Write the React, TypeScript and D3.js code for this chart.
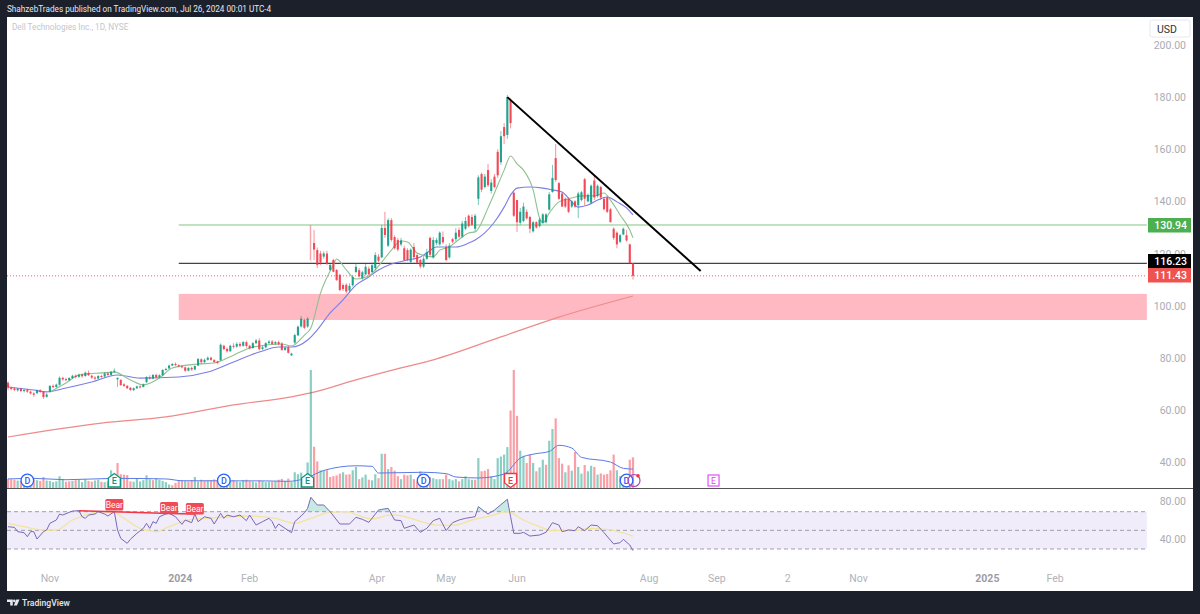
import React from 'react';
import * as d3 from 'd3';

// [open, close, high, low], one row per trading day
const candles: number[][] = [
  [70.4,68.5,71.0,67.6],[68.4,68.1,68.9,67.5],[68.2,67.6,68.7,67.2],[67.5,68.1,68.4,67.0],[68.1,67.2,68.5,66.8],
  [67.2,67.6,68.1,66.7],[67.6,67.0,68.2,66.5],[67.0,66.3,67.4,65.9],[66.3,65.8,66.8,65.0],[66.4,67.5,67.9,66.0],
  [67.5,66.9,68.0,66.4],[66.9,64.9,67.2,64.2],[65.0,65.9,66.4,64.7],[66.9,69.2,69.5,66.7],[69.2,68.7,69.8,68.4],
  [68.8,69.7,70.1,68.5],[69.6,72.3,72.8,69.3],[72.3,71.7,72.7,71.2],[71.8,71.4,72.3,71.0],[71.4,72.2,72.6,71.1],
  [72.2,73.1,73.5,71.9],[73.1,72.6,73.6,72.1],[72.7,73.5,73.9,72.3],[73.5,72.9,74.0,72.4],[73.0,74.3,74.7,72.7],
  [74.2,73.3,75.1,73.0],[73.1,72.4,73.5,71.9],[72.4,72.0,72.9,71.4],[72.0,73.0,73.4,71.7],[73.0,72.7,73.5,72.2],
  [72.8,74.0,74.4,72.5],[74.0,73.4,74.5,73.0],[73.4,74.6,75.0,73.1],[74.6,75.0,75.9,74.2],[71.7,72.3,72.4,68.8],
  [71.5,69.5,71.8,69.2],[69.8,69.2,70.2,68.8],[69.2,68.3,69.6,68.0],[68.5,67.6,68.8,67.3],[67.6,68.3,68.6,67.2],
  [68.3,69.0,69.3,68.0],[69.0,68.7,69.5,68.3],[68.8,69.8,70.1,68.6],[70.6,72.6,72.9,70.4],[72.4,72.0,73.3,71.6],
  [72.0,73.4,73.8,71.7],[73.4,72.5,73.9,72.1],[72.5,73.3,73.7,72.2],[73.3,75.3,75.6,73.1],[75.3,75.7,76.2,75.0],
  [75.9,77.0,77.4,75.7],[77.0,77.6,78.0,76.8],[77.6,77.2,78.2,76.8],[77.1,76.7,77.5,76.3],[76.7,76.3,77.1,75.9],
  [76.3,75.0,76.6,74.6],[75.0,76.1,76.4,74.8],[76.1,75.5,76.6,75.0],[75.5,76.8,77.1,75.2],[77.0,79.5,80.0,76.8],
  [79.4,78.3,79.8,77.6],[78.3,79.2,79.7,78.0],[79.2,80.0,80.5,78.9],[80.0,79.2,80.4,78.8],[79.1,78.4,79.5,78.0],
  [78.5,78.0,78.9,77.5],[79.1,85.0,85.5,78.8],[84.6,83.3,85.0,82.9],[83.4,82.5,83.9,82.0],[82.5,84.6,85.0,82.3],
  [84.6,84.2,85.6,83.5],[84.3,85.3,86.0,83.8],[85.3,84.6,86.0,84.0],[84.6,86.0,86.4,84.2],[86.0,84.5,86.6,83.8],
  [84.6,83.6,85.0,83.2],[83.7,85.6,86.0,83.5],[85.6,86.6,87.2,85.3],[86.6,83.3,87.5,82.8],[83.4,84.0,84.5,83.0],
  [84.0,85.6,86.0,83.6],[85.6,86.2,86.8,85.3],[86.2,85.3,86.8,85.0],[85.4,86.0,86.4,85.0],[86.0,85.2,86.6,84.8],
  [85.4,83.0,86.0,82.6],[83.0,83.8,84.4,82.7],[84.0,81.9,84.5,81.6],[80.9,81.6,81.9,80.7],[85.8,88.7,89.2,85.3],
  [88.6,91.9,92.4,88.3],[92.0,95.0,96.0,91.6],[94.5,91.5,95.0,91.0],[92.0,95.0,95.6,91.5],[130.9,117.5,130.9,116.9],
  [124.0,121.5,129.0,117.5],[121.3,115.6,122.3,114.5],[120.0,116.5,121.0,115.6],[118.8,120.0,120.8,118.0],[120.0,116.0,121.0,115.6],
  [113.7,115.6,116.0,113.4],[117.5,113.0,118.0,112.8],[113.7,109.8,114.0,109.5],[111.8,106.0,112.2,105.5],[107.9,106.4,108.5,105.6],
  [108.0,105.4,108.6,104.7],[105.8,107.6,108.6,105.0],[107.8,111.0,111.6,107.3],[112.9,114.9,116.2,112.5],[113.6,111.2,114.5,110.8],
  [110.6,112.8,113.4,110.0],[112.0,114.9,116.0,111.5],[114.2,112.0,115.0,111.5],[112.9,115.5,116.5,112.6],[114.4,119.4,120.5,113.6],
  [118.8,117.2,119.8,116.6],[118.5,129.8,131.0,118.2],[129.8,127.1,136.0,126.0],[123.0,132.8,133.5,122.5],[132.8,125.2,133.6,124.5],
  [126.3,122.0,127.0,121.5],[125.2,121.5,126.0,120.8],[123.5,125.0,126.0,122.8],[122.0,117.5,123.0,117.0],[121.3,117.5,122.0,117.0],
  [116.8,121.5,122.0,116.3],[122.5,118.6,124.0,117.5],[119.4,116.5,120.0,116.0],[117.5,115.0,118.0,114.3],[115.0,118.0,119.0,114.4],
  [118.0,120.5,121.8,117.5],[126.0,119.5,126.5,119.0],[118.5,125.2,126.3,118.0],[124.0,125.2,126.0,123.2],[123.5,128.0,128.5,123.0],
  [126.3,124.3,128.5,123.6],[122.5,117.5,123.5,117.0],[118.5,123.0,124.0,118.0],[125.5,124.5,126.0,124.0],[125.5,128.0,129.7,124.8],
  [129.0,126.4,130.0,126.0],[126.5,131.5,132.5,126.0],[129.5,132.5,134.0,129.0],[134.5,130.5,135.0,130.0],[134.0,131.0,135.0,130.5],
  [129.5,134.5,135.2,128.5],[141.0,149.2,150.0,138.6],[150.5,144.5,151.0,143.5],[145.5,149.5,150.5,145.0],[152.0,146.2,154.3,145.5],
  [144.0,147.2,148.5,143.0],[149.5,145.5,150.5,145.0],[159.0,150.0,160.0,149.0],[155.0,165.0,167.0,154.0],[168.5,165.0,170.0,162.0],
  [165.5,180.0,180.8,164.0],[179.0,170.0,179.5,168.0],[143.3,134.5,143.7,134.0],[140.5,132.0,140.5,128.3],[131.8,136.0,137.5,131.0],
  [132.5,138.0,139.5,132.0],[136.0,133.5,137.0,133.0],[134.0,129.5,134.5,127.8],[128.5,132.0,132.5,128.0],[132.0,130.0,132.4,129.5],
  [130.5,133.0,133.6,130.0],[131.8,135.0,135.5,131.5],[132.0,135.0,135.5,131.5],[136.8,142.7,143.6,136.5],[143.6,149.0,154.0,143.3],
  [156.6,148.2,162.0,147.5],[147.0,141.0,147.5,140.5],[143.0,138.0,143.5,138.0],[141.0,138.0,141.5,137.5],[141.0,136.0,141.5,135.5],
  [138.0,140.0,140.5,137.5],[140.0,138.0,140.5,137.5],[138.5,143.0,143.7,133.6],[140.5,143.5,144.0,140.0],[148.5,141.0,149.0,138.6],
  [140.0,142.5,143.0,139.6],[139.5,146.0,146.5,139.0],[148.0,141.5,150.0,140.5],[142.0,146.0,146.5,141.5],[145.5,141.5,146.0,140.5],
  [141.0,137.0,141.5,136.5],[141.5,136.0,142.0,135.5],[137.0,132.0,137.5,132.0],[129.5,126.0,130.0,125.2],[128.0,123.5,128.5,122.0],
  [124.5,127.0,127.5,124.0],[127.3,129.5,130.0,127.0],[127.0,125.0,129.0,124.5],[123.5,116.3,123.8,116.0],[116.3,111.43,116.3,110.0],
];

// millions of shares, negative = red bar
const volumes = [
  -4.6,-4.4,-4.2,3.8,-3.6,3.4,-3.8,3.0,-4.4,4.0,-3.6,-5.6,3.8,3.6,3.0,3.4,6.0,4.6,-3.2,-3.4,
  3.6,-4.0,4.2,3.0,4.4,-3.6,-3.2,3.8,4.2,-3.2,3.0,-3.4,9.0,4.0,-12.7,-7.0,-6.8,-6.6,-3.4,3.2,
  5.0,3.4,4.0,6.5,4.4,-4.0,5.0,4.2,3.6,3.0,1.8,-1.4,-2.6,-3.6,-3.8,3.6,-3.4,-4.0,5.6,3.4,
  -4.2,-3.6,3.8,-4.0,-4.4,-3.6,6.6,2.8,2.8,3.6,-4.0,3.4,3.0,4.0,-4.2,-3.4,3.2,2.8,-3.8,3.4,
  3.0,3.2,-3.2,3.4,-4.2,-4.6,3.6,-4.8,3.0,8.0,7.0,7.8,-5.0,13.0,60.0,-21.0,-13.5,9.0,9.0,-9.0,
  -5.6,-6.0,-6.4,-7.3,8.0,-6.8,-7.0,9.0,10.7,-4.5,5.4,6.8,-4.2,3.9,7.0,-5.0,17.4,-17.4,9.6,-10.7,
  -8.8,-6.0,4.5,-6.8,-6.4,6.8,-4.5,-3.4,-8.5,6.0,6.8,-5.6,5.0,4.5,4.5,-4.5,-6.8,4.5,3.9,4.5,
  -3.4,4.5,6.0,4.5,4.2,-4.2,15.2,-8.5,-8.8,-9.6,6.0,4.5,15.2,16.0,17.0,20.8,-39.4,-60.0,-36.7,19.0,
  16.4,-12.7,-17.0,12.7,-8.5,10.5,14.4,-11.8,24.0,30.0,-35.4,-15.2,-12.4,8.0,-11.5,8.8,-18.3,10.7,7.3,-11.7,
  8.5,11.3,-10.7,6.8,-7.4,-6.8,-7.1,-9.0,-17.0,9.0,6.0,5.0,-6.8,-14.4,-15.6,
];

const volMaBars = [0,8,18,33,49,54,80,87,92,98,108,113,115,129,136,139,146,154,159,163,168,171,175,178,187,191,194];
const volMaValues = [4.6,4.9,4.2,4.9,4.6,3.7,3.6,3.4,4.7,8.9,11.3,11,7.6,8,7.3,5.6,5.1,7.1,15.2,17.2,18.6,21.7,20.3,15.6,13.2,10,9.6];

const greenMaBars = [13,18,22,29,33,38,42,47,51,59,64,70,76,85,88,92,94,97,101,102,105,108,112,116,119,122,124,127,132,134,137,139,143,145,149,151,154,156,158,160,163,165,166,168,171,175,178,182,185,187,190,193,194];
const greenMaValues = [66.9,70.3,73.4,74.2,74.5,71.5,69.6,72.2,76.1,77.6,78,81,84.1,85.3,84.5,88.7,91.4,104.8,115.6,117.9,113.7,110.2,111.4,116.7,121.3,124.8,124.4,120.2,118.7,121.3,122.5,124.4,127.9,128.3,137.5,143.2,152,157.4,154.4,152,144.4,133.6,131.7,135.5,139.8,141.3,142.1,142.1,143.2,140.5,134.8,129,126];

const blueMaBars = [0,8,12,18,26,34,41,53,62,70,78,84,88,93,96,100,104,108,112,115,119,124,128,130,133,136,139,143,145,148,151,154,156,158,162,166,169,172,175,177,180,183,186,189,192,194];
const blueMaValues = [68.8,67.6,66.9,68.4,70.7,73.4,72.2,72.6,74.5,78.4,82.2,84.1,84.1,86.8,90.7,97.2,102.2,107.9,111,113.7,116,117.5,118.7,120.2,122.5,122.5,122.5,124,125.2,127.9,132.1,137.8,142.4,145.1,145.5,145.1,144.4,143.6,139.8,137.8,138.6,140.5,141.7,139.8,137.5,134.8];

const redMaBars = [0,29,49,70,88,94,108,122,132,153,171,194];
const redMaValues = [49.6,54.9,57.3,61.9,65,66.5,71.5,76.1,79.2,88,95.6,103.7];

const rsiBars = [0,2,3,5,6,7,8,9,11,12,13,15,16,17,19,20,22,23,24,25,27,28,30,31,33,34,35,37,38,40,42,43,44,45,46,47,49,50,52,54,55,57,58,59,61,63,64,66,67,68,70,72,74,75,77,79,81,82,83,84,86,88,89,91,92,93,94,96,98,100,103,106,108,110,112,115,116,118,120,122,123,126,128,130,132,134,136,138,140,142,144,145,146,148,149,151,155,156,157,159,160,162,165,167,169,171,172,174,176,177,179,181,183,185,188,190,191,193,194];
const rsiValues = [53.9,53.2,48.6,47.5,43.2,48.6,48.6,40.7,48.6,50.4,57.5,61.1,67.5,66.4,69.3,70.7,71.1,64.6,62.9,66.4,67.5,70,67.5,65.4,70,50.4,41.4,36.1,40.4,46.8,52.1,57.5,52.1,59.3,57.5,64.6,67.5,68.2,64.6,56.4,61.1,58.2,67.5,59.3,64.6,62.9,56.8,68.2,62.9,66.4,64.6,66.4,60.4,66.4,55.7,59.3,62.9,59.3,52.1,56.8,52.1,47.5,59.3,65.4,68.9,73.6,85.4,77.2,77.2,70,56.8,56.8,64,61.8,58.6,71.8,72.5,73.6,61.1,60.4,52.2,55.7,47.9,52.2,60.4,62.9,49.7,58.2,61.1,62.9,64,64.7,75.4,70,67.5,71.8,83.3,64.7,46.8,46.8,47.9,43.9,45,47.9,58.2,55.7,48.6,50.4,49.7,53.9,49.7,55.7,55,47.5,35.4,36.8,40.4,34.3,28.2];

const rsiMaBars = [0,5,11,15,20,25,29,33,36,41,46,50,56,62,69,75,83,89,94,100,105,109,113,119,124,129,133,139,144,150,155,160,165,169,176,181,187,194];
const rsiMaValues = [57.5,53.9,50.4,50.4,61.1,67.5,70,69.3,62.9,52.1,48.6,53.9,61.1,62.9,64.6,65.4,62.9,57.5,62.9,69.3,70,65.7,62.2,66.5,64,58.6,55.7,55.7,61.1,65.7,70,61.1,53.9,49.7,49.7,52.2,50.4,43.9];

const priceTicks = [200, 180, 160, 140, 120, 100, 80, 60, 40];
const rsiTicks = [80, 40];
const rsiBands = [70, 50, 30];
const timeBars = [13, 53.5, 75, 114.5, 136, 158, 199, 220, 242, 264, 304, 325];
const timeLabels = ['Nov', '2024', 'Feb', 'Apr', 'May', 'Jun', 'Aug', 'Sep', '2', 'Nov', '2025', 'Feb'];

const dividendBars = [6, 67, 129, 192];
const earningsBars = [33, 93];
const bearBars = [33, 50, 58];
const bearTops = [499, 502, 503];
const bearLineBars = [22, 33, 50, 58];
const bearLineValues = [71.1, 70, 68.2, 67.5];

const green = '#089981';
const red = '#f23645';
const font = 'Roboto, sans-serif';

const W = 1200;
const H = 614;
const lastBar = 353.5;

const x = d3.scaleLinear().domain([0, 194]).range([8, 633]);
const y = d3.scaleLinear().domain([200, 40]).range([45, 462]);
const yVol = d3.scaleLinear().domain([0, 60]).range([488, 370]);
const yRsi = d3.scaleLinear().domain([70, 30]).range([511.7, 549]);

const plotRight = x(lastBar);

function series(bars: number[], values: number[], yScale: any, curve: any = d3.curveMonotoneX) {
  return d3
    .line<number>()
    .x((b) => x(b))
    .y((_, i) => yScale(values[i]))
    .curve(curve)(bars) as string;
}

const rsiArea = d3
  .area<number>()
  .x((b) => x(b))
  .y0(yRsi(70))
  .y1((_, i) => yRsi(rsiValues[i]))(rsiBars) as string;

const PriceLabel = ({ value, top, fill }: { value: number; top: number; fill: string }) => (
  <g>
    <rect x={1148} y={top} width={43} height={14.5} fill={fill} />
    <text x={1187} y={top + 11} textAnchor="end" fill="#fff" fontSize={10.5} fontWeight={500}>
      {value.toFixed(2)}
    </text>
  </g>
);

export default function App() {
  return (
    <svg
      width={W}
      height={H}
      viewBox={`0 0 ${W} ${H}`}
      fontFamily={font}
      style={{ position: 'absolute', left: 0, top: 0, display: 'block' }}
    >
      <defs>
        <clipPath id="above70">
          <rect x={0} y={480} width={W} height={yRsi(70) - 480} />
        </clipPath>
      </defs>
      <rect width={W} height={H} fill="#1c202b" />
      <rect x={7} y={17} width={1186} height={574} fill="#fff" />

      <text x={7} y={12} fill="#e6e8ee" fontSize={8.2}>
        ShahzebTrades published on TradingView.com, Jul 26, 2024 00:01 UTC-4
      </text>
      <text x={12} y={30} fill="#c3c6cd" fontSize={8.2}>
        Dell Technologies Inc., 1D, NYSE
      </text>

      {/* demand zone and horizontal levels */}
      <rect
        x={x(53)}
        y={y(104.5)}
        width={plotRight - x(53)}
        height={y(94.5) - y(104.5)}
        fill="#ffb9c2"
      />
      <line x1={x(53)} x2={plotRight} y1={y(130.94)} y2={y(130.94)} stroke="#81c784" strokeWidth={1} />
      <line x1={x(53)} x2={plotRight} y1={y(116.23)} y2={y(116.23)} stroke="#444" strokeWidth={1.4} />
      <line x1={7} x2={plotRight} y1={y(111.43)} y2={y(111.43)} stroke="#f23645" strokeWidth={0.8} strokeDasharray="1 2" />

      {/* moving averages */}
      <path d={series(redMaBars, redMaValues, y)} fill="none" stroke="#ef8a8a" strokeWidth={1.2} />
      <path d={series(blueMaBars, blueMaValues, y)} fill="none" stroke="#7a7ee6" strokeWidth={1.1} />
      <path d={series(greenMaBars, greenMaValues, y)} fill="none" stroke="#8fc08f" strokeWidth={1.1} />

      {/* volume */}
      {volumes.map((v, i) => (
        <rect
          key={i}
          x={x(i) - 1.1}
          y={yVol(Math.abs(v))}
          width={2.2}
          height={yVol(0) - yVol(Math.abs(v))}
          fill={v < 0 ? red : green}
          opacity={0.47}
        />
      ))}
      <path d={series(volMaBars, volMaValues, yVol)} fill="none" stroke="#5b7be6" strokeWidth={1} />

      {/* candles */}
      {candles.map(([o, c, h, l], i) => {
        const color = c >= o ? green : red;
        return (
          <g key={i} opacity={i === 94 ? 0.45 : 0.9}>
            <line x1={x(i)} x2={x(i)} y1={y(h)} y2={y(l)} stroke={color} strokeWidth={0.8} opacity={0.75} />
            <rect
              x={x(i) - 1.05}
              y={y(Math.max(o, c))}
              width={i === 94 ? 1.2 : 2.1}
              height={Math.max(1, Math.abs(y(o) - y(c)))}
              fill={color}
            />
          </g>
        );
      })}

      {/* trend line */}
      <line x1={x(155)} y1={y(180)} x2={x(215)} y2={y(113.3)} stroke="#000" strokeWidth={2} />

      {/* pane divider */}
      <line x1={7} x2={1193} y1={488.5} y2={488.5} stroke="#555" strokeWidth={1} />

      {/* dividends / earnings */}
      {dividendBars.map((b) => (
        <g key={b}>
          <circle cx={x(b)} cy={480.5} r={6.3} fill="#fff" stroke="#2962ff" strokeWidth={1.3} />
          <text x={x(b)} y={483.8} textAnchor="middle" fontSize={9} fontWeight={500} fill="#2962ff">D</text>
        </g>
      ))}
      <circle cx={x(194) + 1} cy={480.5} r={6} fill="none" stroke="#ab47bc" strokeWidth={1.2} />
      <circle cx={x(194) + 5} cy={475.7} r={1.8} fill="#f23645" />
      {earningsBars.map((b) => (
        <g key={b}>
          <path
            d={d3.line()([[x(b) - 6, 487], [x(b) - 6, 478], [x(b), 473.5], [x(b) + 6, 478], [x(b) + 6, 487]]) + 'Z'}
            fill="#fff"
            stroke={green}
            strokeWidth={1.3}
          />
          <text x={x(b)} y={484} textAnchor="middle" fontSize={9} fontWeight={500} fill={green}>E</text>
        </g>
      ))}
      <path
        d={d3.line()([[x(156) - 6, 473.5], [x(156) + 6, 473.5], [x(156) + 6, 483], [x(156), 487.5], [x(156) - 6, 483]]) + 'Z'}
        fill="#fff"
        stroke={red}
        strokeWidth={1.3}
      />
      <text x={x(156)} y={483.5} textAnchor="middle" fontSize={9} fontWeight={500} fill={red}>E</text>
      <rect x={x(219) - 5.5} y={475} width={11} height={11} fill="#fff" stroke="#e040fb" strokeWidth={1.1} />
      <text x={x(219)} y={483.6} textAnchor="middle" fontSize={8.5} fill="#e040fb">E</text>

      {/* RSI pane */}
      <rect x={7} y={yRsi(70)} width={plotRight - 7} height={yRsi(30) - yRsi(70)} fill="#f0ecf9" />
      {rsiBands.map((b) => (
        <line
          key={b}
          x1={7}
          x2={plotRight}
          y1={yRsi(b)}
          y2={yRsi(b)}
          stroke="#8a8a98"
          strokeWidth={0.8}
          strokeDasharray="4 3"
        />
      ))}
      <path d={rsiArea} fill={green} opacity={0.22} clipPath="url(#above70)" />
      <path d={series(rsiMaBars, rsiMaValues, yRsi)} fill="none" stroke="#f3e49c" strokeWidth={1.3} />
      <path d={series(rsiBars, rsiValues, yRsi, d3.curveLinear)} fill="none" stroke="#7a68b8" strokeWidth={1} />
      <path d={series(bearLineBars, bearLineValues, yRsi, d3.curveLinear)} fill="none" stroke={red} strokeWidth={1.5} />
      {bearBars.map((b, i) => (
        <g key={b}>
          <rect x={x(b) - 9} y={bearTops[i]} width={18} height={11.5} rx={1.5} fill="#ef4a56" />
          <text x={x(b)} y={bearTops[i] + 8.8} textAnchor="middle" fontSize={8.5} fill="#fff">Bear</text>
        </g>
      ))}

      {/* axes */}
      <rect x={1150} y={20} width={40} height={17} rx={2} fill="#fff" stroke="#e6e8ee" />
      <text x={1157} y={32.5} fontSize={10.5} fill="#333">USD</text>
      {priceTicks.map((t) => (
        <text key={t} x={1186} y={y(t) + 4} textAnchor="end" fontSize={10.5} fill="#a9acb5">
          {t.toFixed(2)}
        </text>
      ))}
      {rsiTicks.map((t) => (
        <text key={t} x={1186} y={yRsi(t) + 3} textAnchor="end" fontSize={10.5} fill="#a9acb5">
          {t.toFixed(2)}
        </text>
      ))}
      <PriceLabel value={130.94} top={218} fill="#4caf50" />
      <PriceLabel value={116.23} top={254} fill="#000" />
      <PriceLabel value={111.43} top={268} fill="#ef5350" />
      {timeBars.map((b, i) => {
        const year = timeLabels[i].length === 4;
        return (
          <text
            key={i}
            x={x(b)}
            y={582}
            textAnchor="middle"
            fontSize={10.5}
            fontWeight={year ? 700 : 400}
            fill={year ? '#9a9da6' : '#b0b3bb'}
          >
            {timeLabels[i]}
          </text>
        );
      })}

      {/* footer */}
      <g fill="#e6e8ee">
        <path d="M7 599.5h5.8v6h-2.6v-3.4H7z" />
        <circle cx={14.3} cy={600.9} r={1.3} />
        <path d="M16.3 599.5h3.2l-2.6 6h-3.1z" />
      </g>
      <text x={22} y={606} fill="#e6e8ee" fontSize={8.6} fontWeight={500}>
        TradingView
      </text>
    </svg>
  );
}
